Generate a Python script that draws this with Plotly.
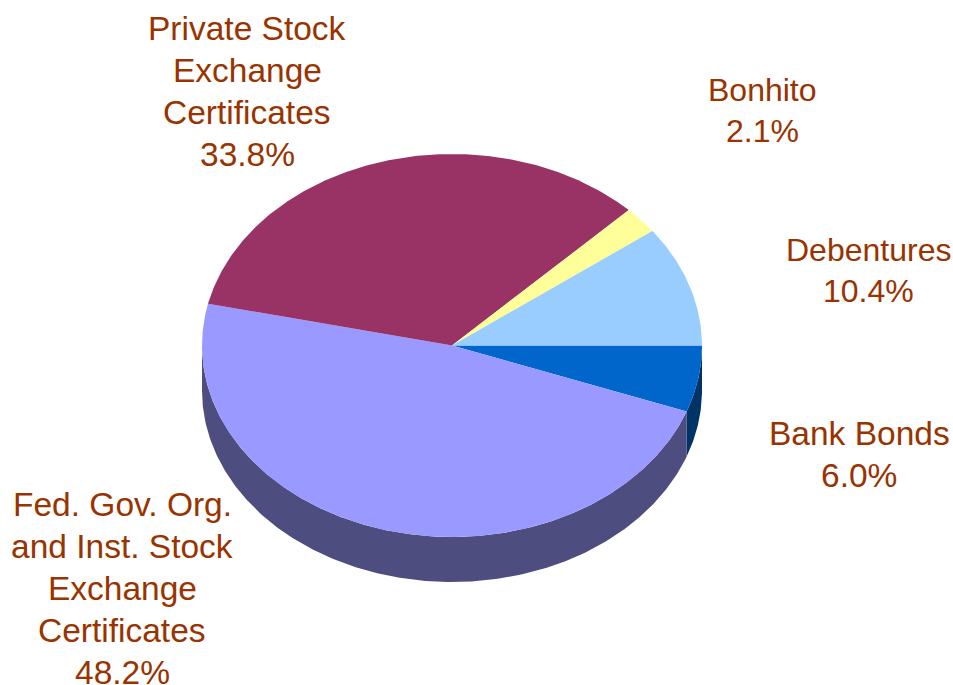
"""Pseudo-3D pie of portfolio composition, drawn on hidden pixel-sized axes."""
import numpy as np
import plotly.graph_objects as go

WIDTH, HEIGHT = 953, 685

category_lines = [
    ["Bank Bonds"],
    ["Fed. Gov. Org.", "and Inst. Stock", "Exchange", "Certificates"],
    ["Private Stock", "Exchange", "Certificates"],
    ["Bonhito"],
    ["Debentures"],
]
# slice sizes as measured on the picture, the printed labels round differently
shares = [5.6, 47.9, 34.0, 2.3, 10.2]
share_labels = ["6.0%", "48.2%", "33.8%", "2.1%", "10.4%"]
top_colors = ["#0066CC", "#9999FF", "#993366", "#FFFF99", "#99CCFF"]
side_colors = ["#003366", "#4D4D80", "#4D1A33", "#808050", "#4D6680"]
label_x = [859, 122, 247, 762, 868]
label_top = [433, 504, 28, 90, 250]
label_size = [33.5, 33.5, 33.5, 32, 32]
label_pitch = [42, 42, 42, 40.5, 40.5]

CX, CY, RX, RY, DEPTH = 452, 345.5, 250, 191.5, 45
TEXT_COLOR = "#993300"


def rim(a0, a1):
    t = np.radians(np.linspace(a0, a1, max(int(abs(a1 - a0) * 2), 2)))
    return CX + RX * np.cos(t), CY + RY * np.sin(t)


fig = go.Figure()
edges = np.concatenate([[0], np.cumsum(shares)]) * 360 / sum(shares)

# side wall, only the front half of the rim can be seen
for a0, a1, col in zip(edges[:-1], edges[1:], side_colors):
    lo, hi = max(a0, 0), min(a1, 180)
    if lo >= hi:
        continue
    x, y = rim(lo, hi)
    fig.add_trace(go.Scatter(
        x=np.concatenate([x, x[::-1]]),
        y=np.concatenate([y, y[::-1] + DEPTH]),
        mode="lines", fill="toself", fillcolor=col,
        line=dict(width=0), hoverinfo="skip",
    ))

# top face
for a0, a1, col in zip(edges[:-1], edges[1:], top_colors):
    x, y = rim(a0, a1)
    fig.add_trace(go.Scatter(
        x=np.concatenate([[CX], x, [CX]]),
        y=np.concatenate([[CY], y, [CY]]),
        mode="lines", fill="toself", fillcolor=col,
        line=dict(width=0), hoverinfo="skip",
    ))

# one annotation per line, plotly's own line spacing is too wide at this size
for lines, pct, lx, top, size, pitch in zip(
    category_lines, share_labels, label_x, label_top, label_size, label_pitch
):
    for i, line in enumerate(lines + [pct]):
        fig.add_annotation(
            x=lx, y=top + i * pitch, text=line, showarrow=False,
            font=dict(family="Liberation Sans", size=size, color=TEXT_COLOR),
            xanchor="center", yanchor="middle", align="center",
        )

fig.update_layout(
    width=WIDTH, height=HEIGHT,
    margin=dict(l=0, r=0, t=0, b=0),
    paper_bgcolor="white", plot_bgcolor="white",
    showlegend=False,
    xaxis=dict(range=[0, WIDTH], visible=False),
    yaxis=dict(range=[HEIGHT, 0], visible=False),
)
fig.write_html(
    "out.html",
    config={"displayModeBar": False},
    post_script="document.body.style.margin = '0';",
)
